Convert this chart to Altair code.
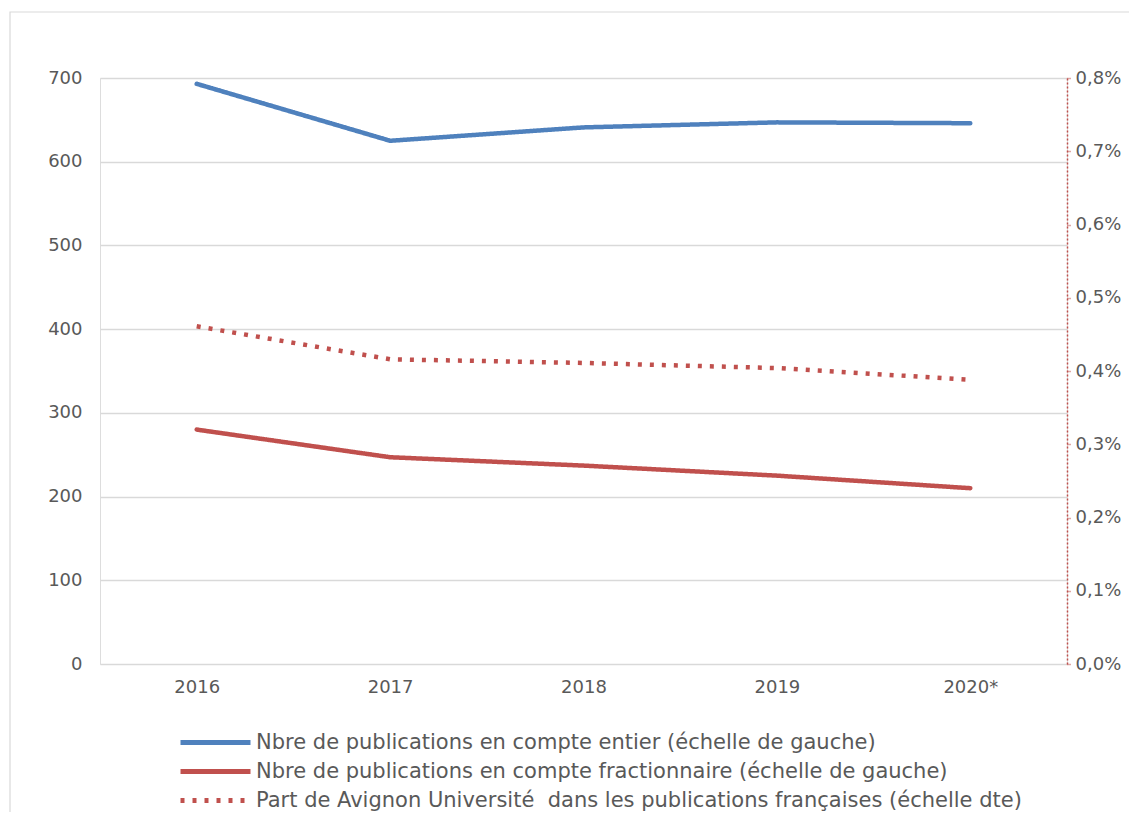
import altair as alt
import pandas as pd

years = ["2016", "2017", "2018", "2019", "2020*"]
entier = [693, 625, 641, 647, 646]
fractionnaire = [280, 247, 237, 225, 210]
part = [0.461, 0.416, 0.411, 0.404, 0.388]

s1 = "Nbre de publications en compte entier (échelle de gauche)"
s2 = "Nbre de publications en compte fractionnaire (échelle de gauche)"
s3 = "Part de Avignon Université\u00a0 dans les publications françaises (échelle dte)"
series = [s1, s2, s3]
colors = ["#4F81BD", "#C0504D", "#C0504D"]
dashes = [[1, 0], [1, 0], [4, 8]]

left_df = pd.DataFrame({
    "year": years * 2,
    "series": [s1] * 5 + [s2] * 5,
    "value": entier + fractionnaire,
})
right_df = pd.DataFrame({"year": years, "series": [s3] * 5, "value": part})

FONT = "DejaVu Sans"
GREY = "#595959"

color = alt.Color("series:N", scale=alt.Scale(domain=series, range=colors),
                  title=None,
                  legend=alt.Legend(orient="none", legendX=105, legendY=654,
                                    direction="vertical", symbolType="M-5,0H5",
                                    symbolSize=196, symbolStrokeWidth=5,
                                    labelFontSize=21, labelColor=GREY, labelFont=FONT,
                                    labelOffset=30, rowPadding=7, labelLimit=1000,
                                    padding=0))
dash = alt.StrokeDash("series:N", scale=alt.Scale(domain=series, range=dashes),
                      title=None, legend=None)
xenc = alt.X("year:O", sort=years, title=None,
             axis=alt.Axis(labelAngle=0, ticks=False, domain=False, labelPadding=14,
                           labelFontSize=18, labelColor=GREY, labelFont=FONT))

frame = alt.Chart(pd.DataFrame({"a": [0]})).mark_rect(
    filled=False, stroke="#D9D9D9", strokeWidth=1.2
).encode(x=alt.value(-90), x2=alt.value(1300), y=alt.value(-66), y2=alt.value(1000))

left = alt.Chart(left_df).mark_line(strokeWidth=4.5, strokeCap="round", strokeJoin="round").encode(
    x=xenc,
    y=alt.Y("value:Q", title=None,
            scale=alt.Scale(domain=[0, 700], nice=False),
            axis=alt.Axis(orient="left", values=list(range(0, 701, 100)), domain=False,
                          ticks=False, labelPadding=18, gridColor="#D9D9D9", gridWidth=1.5,
                          labelFontSize=18, labelColor=GREY, labelFont=FONT)),
    color=color,
    strokeDash=dash,
)

right = alt.Chart(right_df).mark_line(strokeWidth=4.5).encode(
    x=xenc,
    y=alt.Y("value:Q", title=None,
            scale=alt.Scale(domain=[0, 0.8], nice=False),
            axis=alt.Axis(orient="right", values=[0, 0.1, 0.2, 0.3, 0.4, 0.5, 0.6, 0.7, 0.8],
                          grid=False, domainColor="#C0504D", domainDash=[2, 2],
                          domainWidth=1.5, tickColor="#C0504D", tickSize=4,
                          tickDash=[1, 1], tickWidth=1.5, labelPadding=4,
                          labelExpr="replace(format(datum.value, '.1f'), '.', ',') + '%'",
                          labelFontSize=18, labelColor=GREY, labelFont=FONT)),
    color=color,
    strokeDash=dash,
)

chart = alt.layer(frame, left, right).resolve_scale(y="independent").properties(
    width=967, height=586,
    autosize=alt.AutoSizeParams(type="none"),
    padding={"left": 92, "top": 70, "right": 62, "bottom": 148},
).configure_view(stroke=None).configure(font=FONT)

chart.save("out.html", embed_options={"renderer": "svg", "actions": False})
